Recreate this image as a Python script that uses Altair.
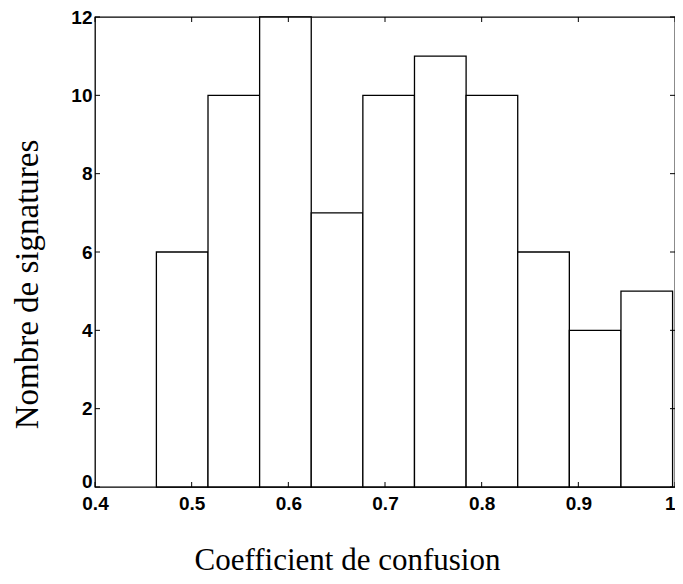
import altair as alt
import pandas as pd

# Histogram bins
bin_start = [0.4635, 0.5169, 0.5703, 0.6237, 0.6771, 0.7305, 0.7839, 0.8373, 0.8907, 0.9441]
bin_end = [0.5169, 0.5703, 0.6237, 0.6771, 0.7305, 0.7839, 0.8373, 0.8907, 0.9441, 0.9975]
counts = [6, 10, 12, 7, 10, 11, 10, 6, 4, 5]

x_ticks = [0.4, 0.5, 0.6, 0.7, 0.8, 0.9, 1.0]
y_ticks = [0, 2, 4, 6, 8, 10, 12]

W, H = 580, 470

bars_df = pd.DataFrame({"start": bin_start, "end": bin_end, "count": counts})
xt_df = pd.DataFrame({"v": x_ticks})
yt_df = pd.DataFrame({"v": y_ticks})

xscale = alt.Scale(domain=[0.4, 1.0], nice=False, zero=False)
yscale = alt.Scale(domain=[0, 12], nice=False)

label_font = "Liberation Sans"
title_font = "Liberation Serif"

x_axis = alt.Axis(
    values=x_ticks, format=".1~f", grid=False, ticks=False, tickSize=0, domain=False,
    labelFont=label_font, labelFontSize=19, labelFontWeight="bold", labelColor="black",
    labelPadding=7, labelFlush=False,
    labelAlign={"condition": {"test": "datum.value >= 1", "value": "right"}, "value": "center"},
    title="Coefficient de confusion", titleFont=title_font, titleFontSize=31,
    titleFontWeight="normal", titleColor="black", titleX=252, titleY=82,
    titleAlign="center", titleBaseline="alphabetic", titleAnchor="start",
)
y_axis = alt.Axis(
    values=y_ticks, format="d", grid=False, ticks=False, tickSize=0, domain=False,
    labelFont=label_font, labelFontSize=19, labelFontWeight="bold", labelColor="black",
    labelPadding=3,
    labelBaseline={"condition": {"test": "datum.value == 0", "value": "alphabetic"}, "value": "middle"},
    title="Nombre de signatures", titleFont=title_font, titleFontSize=33,
    titleFontWeight="normal", titleColor="black", titleAngle=270, titleX=-58, titleY=267,
    titleAlign="center", titleBaseline="alphabetic", titleAnchor="start",
)

bars = alt.Chart(bars_df).mark_rect(
    fill="white", stroke="black", strokeWidth=1.3
).encode(
    x=alt.X("start:Q", scale=xscale, axis=x_axis),
    x2="end:Q",
    y=alt.Y("count:Q", scale=yscale, axis=y_axis),
    y2=alt.datum(0),
)

tick_len = 5
bottom_ticks = alt.Chart(xt_df).mark_rule(color="black", strokeWidth=1).encode(
    x=alt.X("v:Q", scale=xscale), y=alt.value(H), y2=alt.value(H - tick_len)
)
top_ticks = alt.Chart(xt_df).mark_rule(color="black", strokeWidth=1).encode(
    x=alt.X("v:Q", scale=xscale), y=alt.value(0), y2=alt.value(tick_len)
)
left_ticks = alt.Chart(yt_df).mark_rule(color="black", strokeWidth=1).encode(
    y=alt.Y("v:Q", scale=yscale), x=alt.value(0), x2=alt.value(tick_len)
)
right_ticks = alt.Chart(yt_df).mark_rule(color="black", strokeWidth=1).encode(
    y=alt.Y("v:Q", scale=yscale), x=alt.value(W), x2=alt.value(W - tick_len)
)

chart = alt.layer(bars, bottom_ticks, top_ticks, left_ticks, right_ticks).properties(
    width=W, height=H,
    autosize=alt.AutoSizeParams(type="none"),
    padding={"left": 87, "top": 9, "right": 0, "bottom": 89},
    background="white",
).configure_view(stroke="black", strokeWidth=1.3)

chart.save("out.html", embed_options={"renderer": "svg", "actions": False})
